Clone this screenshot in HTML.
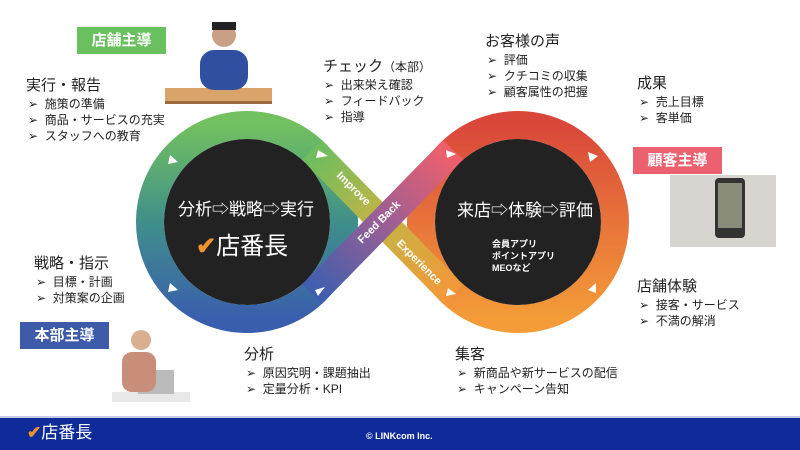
<!DOCTYPE html>
<html><head><meta charset="utf-8"><style>
body{margin:0;width:800px;height:450px;overflow:hidden;background:#fff;font-family:"Liberation Sans","Noto Sans CJK JP",sans-serif;position:relative;color:#222}
.t{position:absolute;font-size:15px;line-height:18px;white-space:nowrap}
.b{position:absolute;font-size:12px;line-height:16px;white-space:nowrap}
.box{position:absolute;color:#fff;font-weight:bold;font-size:15px;text-align:center;line-height:27px;width:89px;height:27px}
</style></head><body>
<svg width="800" height="450" style="position:absolute;left:0;top:0">
<defs>
<linearGradient id="gl" x1="0" y1="0" x2="0" y2="1"><stop offset="0" stop-color="#72c060"/><stop offset="0.5" stop-color="#3f8f8a"/><stop offset="1" stop-color="#3a5eae"/></linearGradient>
<linearGradient id="gr" x1="0" y1="0" x2="0" y2="1"><stop offset="0" stop-color="#d9473a"/><stop offset="0.5" stop-color="#e8733a"/><stop offset="1" stop-color="#f39c38"/></linearGradient>
<linearGradient id="gi" x1="316" y1="154" x2="449" y2="290" gradientUnits="userSpaceOnUse"><stop offset="0" stop-color="#6fbd5e"/><stop offset="0.5" stop-color="#c6b444"/><stop offset="1" stop-color="#f1993a"/></linearGradient>
<linearGradient id="gf" x1="316" y1="290" x2="449" y2="154" gradientUnits="userSpaceOnUse"><stop offset="0" stop-color="#3f5fae"/><stop offset="0.5" stop-color="#9a5f95"/><stop offset="1" stop-color="#ee5f6c"/></linearGradient>
</defs>
<circle cx="247" cy="222" r="97" fill="none" stroke="url(#gl)" stroke-width="28"/>
<circle cx="518" cy="222" r="97" fill="none" stroke="url(#gr)" stroke-width="28"/>
<line x1="312" y1="150" x2="453" y2="294" stroke="url(#gi)" stroke-width="28"/>
<line x1="312" y1="294" x2="453" y2="150" stroke="url(#gf)" stroke-width="28"/>
<circle cx="247" cy="222" r="83" fill="#222"/>
<circle cx="518" cy="222" r="83" fill="#222"/>
<g fill="#fff">
<polygon points="170,155 178,162 168,164"/>
<polygon points="318,150 328,156 316,158"/>
<polygon points="170,283 178,290 168,292"/>
<polygon points="315,290 325,287 318,296"/>
<polygon points="446,150 456,154 447,158"/>
<polygon points="588,152 598,156 590,162"/>
<polygon points="448,288 456,294 446,296"/>
<polygon points="588,290 596,283 596,293"/>
</g>
<g fill="#fff" font-weight="bold" font-size="11" font-family="Liberation Sans,sans-serif">
<text x="336" y="176" transform="rotate(45 336 176)">Improve</text>
<text x="362" y="244" transform="rotate(-45 362 244)">Feed Back</text>
<text x="396" y="244" transform="rotate(45 396 244)">Experience</text>
</g>
<rect x="0" y="416" width="800" height="2" fill="#c8cbe8"/>
<rect x="0" y="418" width="800" height="32" fill="#0f2b99"/>
<rect x="165" y="88" width="107" height="16" fill="#d9a46a"/>
<rect x="165" y="101" width="107" height="3" fill="#9c6a3c"/>
<rect x="200" y="50" width="48" height="40" rx="14" fill="#2f4fa0"/>
<circle cx="224" cy="35" r="12" fill="#caa084"/>
<rect x="212" y="22" width="24" height="8" fill="#222"/>
<rect x="670" y="175" width="106" height="72" fill="#d8d4cf"/>
<rect x="715" y="178" width="30" height="60" rx="4" fill="#333"/>
<rect x="718" y="183" width="24" height="45" fill="#8a8c7a"/>
<rect x="112" y="392" width="78" height="10" fill="#e8e8e8"/>
<rect x="138" y="370" width="36" height="24" fill="#bbb"/>
<circle cx="141" cy="340" r="10" fill="#d9b08f"/>
<rect x="122" y="352" width="34" height="40" rx="10" fill="#c98e7a"/>
</svg>
<div class="box" style="left:77px;top:27px;background:#6abf5e">店舗主導</div>
<div class="box" style="left:633px;top:147px;background:#ec6170">顧客主導</div>
<div class="box" style="left:20px;top:322px;background:#3e5ba9">本部主導</div>

<div class="t" style="left:26px;top:77px">実行・報告</div>
<div class="b" style="left:28px;top:96px">➢&nbsp; 施策の準備<br>➢&nbsp; 商品・サービスの充実<br>➢&nbsp; スタッフへの教育</div>

<div class="t" style="left:323px;top:58px">チェック<span style="font-size:12px">（本部）</span></div>
<div class="b" style="left:324px;top:77px">➢&nbsp; 出来栄え確認<br>➢&nbsp; フィードバック<br>➢&nbsp; 指導</div>

<div class="t" style="left:485px;top:33px">お客様の声</div>
<div class="b" style="left:487px;top:52px">➢&nbsp; 評価<br>➢&nbsp; クチコミの収集<br>➢&nbsp; 顧客属性の把握</div>

<div class="t" style="left:637px;top:75px">成果</div>
<div class="b" style="left:639px;top:94px">➢&nbsp; 売上目標<br>➢&nbsp; 客単価</div>

<div class="t" style="left:34px;top:255px">戦略・指示</div>
<div class="b" style="left:36px;top:274px">➢&nbsp; 目標・計画<br>➢&nbsp; 対策案の企画</div>

<div class="t" style="left:244px;top:346px">分析</div>
<div class="b" style="left:246px;top:365px">➢&nbsp; 原因究明・課題抽出<br>➢&nbsp; 定量分析・KPI</div>

<div class="t" style="left:455px;top:346px">集客</div>
<div class="b" style="left:457px;top:365px">➢&nbsp; 新商品や新サービスの配信<br>➢&nbsp; キャンペーン告知</div>

<div class="t" style="left:637px;top:278px">店舗体験</div>
<div class="b" style="left:639px;top:297px">➢&nbsp; 接客・サービス<br>➢&nbsp; 不満の解消</div>

<div class="t" style="left:178px;top:200px;color:#fff;font-size:17px;line-height:20px">分析⇨戦略⇨実行</div>
<div class="t" style="left:196px;top:234px;color:#fff;font-size:24px;line-height:26px"><span style="color:#f0922d;font-weight:bold">✔</span>店番長</div>
<div class="t" style="left:457px;top:201px;color:#fff;font-size:17px;line-height:20px">来店⇨体験⇨評価</div>
<div class="b" style="left:492px;top:238px;color:#fff;font-size:9px;line-height:12px;font-weight:bold">会員アプリ<br>ポイントアプリ<br>MEOなど</div>

<div class="t" style="left:27px;top:423px;color:#fff;font-size:17px;line-height:20px"><span style="color:#f0922d;font-weight:bold">✔</span>店番長</div>
<div class="b" style="left:366px;top:428px;color:#fff;font-size:9px;font-weight:bold">© LINKcom Inc.</div>
</body></html>
